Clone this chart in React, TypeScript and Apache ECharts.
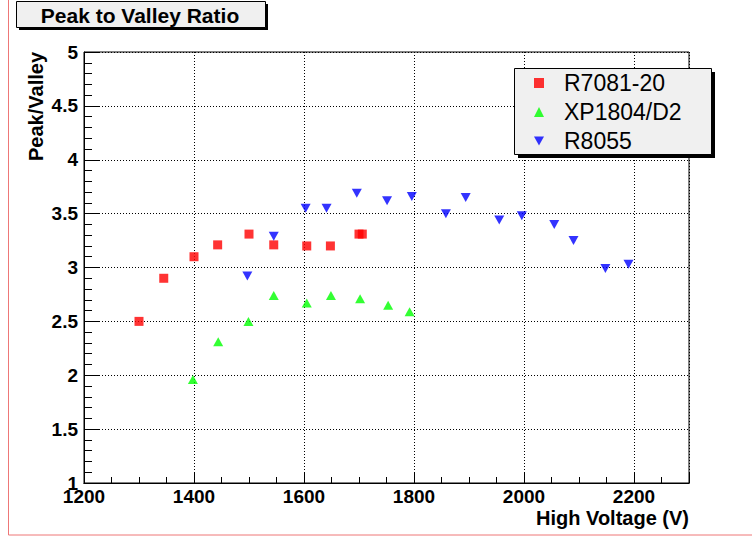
import React, { useEffect, useRef } from "react";
import * as echarts from "echarts";

// ---- data ----
const r7081X = [1300, 1345, 1400, 1443, 1500, 1545, 1605, 1648, 1700, 1706];
const r7081Y = [2.5, 2.9, 3.1, 3.21, 3.31, 3.21, 3.2, 3.2, 3.31, 3.31];

const xp1804X = [1398, 1444, 1499, 1545, 1605, 1649, 1702, 1753, 1792];
const xp1804Y = [1.96, 2.31, 2.5, 2.74, 2.67, 2.74, 2.71, 2.65, 2.59];

const r8055X = [1497, 1545, 1603, 1641, 1696, 1751, 1796, 1858, 1894, 1955, 1996, 2055, 2090, 2148, 2190];
const r8055Y = [2.92, 3.29, 3.55, 3.55, 3.69, 3.62, 3.66, 3.5, 3.65, 3.44, 3.48, 3.4, 3.25, 2.99, 3.03];

const seriesNames = ["R7081-20", "XP1804/D2", "R8055"];
const titleText = "Peak to Valley Ratio";
const xTitle = "High Voltage (V)";
const yTitle = "Peak/Valley";

const xMin = 1200;
const xMax = 2300;
const xMajor = 200;
const xMinor = 50;
const yMin = 1;
const yMax = 5;
const yMajor = 0.5;

const FONT = "'Liberation Sans', Arial, Helvetica, sans-serif";

function zip(xs: number[], ys: number[]) {
  return xs.map((x, i) => [x, ys[i]]);
}

export default function App() {
  const ref = useRef<HTMLDivElement>(null);

  useEffect(() => {
    if (!ref.current) return;
    const chart = echarts.init(ref.current, undefined, { renderer: "svg" });
    const dotted = { color: "#000", width: 1, type: [1, 2] as any };
    const option: any = {
      animation: false,
      backgroundColor: "#fff",
      grid: {
        left: 84,
        right: 63,
        top: 52,
        bottom: 56,
        show: true,
        borderColor: "#000",
        borderWidth: 1,
        backgroundColor: "#fff",
      },
      xAxis: [
        {
          type: "value",
          min: xMin,
          max: xMax,
          interval: xMinor,
          position: "bottom",
          axisLine: { show: true, lineStyle: { color: "#000", width: 1 } },
          axisTick: { show: true, inside: true, length: 6, lineStyle: { color: "#000" } },
          axisLabel: { show: false },
          splitLine: { show: false },
        },
        {
          type: "value",
          min: xMin,
          max: xMax,
          interval: xMajor,
          position: "bottom",
          axisLine: { show: true, lineStyle: { color: "#000", width: 1 } },
          axisTick: { show: true, inside: true, length: 11, lineStyle: { color: "#000" } },
          axisLabel: {
            show: true,
            color: "#000",
            fontFamily: FONT,
            fontWeight: "bold",
            fontSize: 19,
            margin: 4,
            formatter: (v: number) => (v === xMax ? "" : String(v)),
          },
          splitLine: { show: true, lineStyle: dotted },
        },
      ],
      yAxis: {
        type: "value",
        min: yMin,
        max: yMax,
        interval: yMajor,
        axisLine: { show: true, lineStyle: { color: "#000", width: 1 } },
        axisTick: { show: true, inside: true, length: 16, lineStyle: { color: "#000" } },
        minorTick: { show: true, splitNumber: 5, length: 8, lineStyle: { color: "#000" } },
        axisLabel: {
          color: "#000",
          fontFamily: FONT,
          fontWeight: "bold",
          fontSize: 19,
          margin: 6,
        },
        splitLine: { show: true, lineStyle: dotted },
      },
      legend: {
        orient: "vertical",
        left: 514,
        top: 68,
        padding: [3, 29, 5, 20],
        itemWidth: 10,
        itemHeight: 10,
        itemGap: 5,
        symbolKeepAspect: true,
        z: 10,
        backgroundColor: "transparent",
        textStyle: {
          color: "#000",
          fontFamily: FONT,
          fontSize: 23,
          lineHeight: 24,
          padding: [0, 0, 0, 15],
        },
        data: [
          { name: seriesNames[0], icon: "rect" },
          { name: seriesNames[1], icon: "triangle" },
          { name: seriesNames[2], icon: "path://M0,0L10,0L5,9Z" },
        ],
      },
      series: [
        {
          name: seriesNames[0],
          type: "scatter",
          xAxisIndex: 0,
          symbol: "rect",
          symbolSize: 9,
          itemStyle: { color: "#ff0000" },
          data: zip(r7081X, r7081Y),
        },
        {
          name: seriesNames[1],
          type: "scatter",
          xAxisIndex: 0,
          symbol: "triangle",
          symbolSize: [10, 9],
          itemStyle: { color: "#00ff00" },
          data: zip(xp1804X, xp1804Y),
        },
        {
          name: seriesNames[2],
          type: "scatter",
          xAxisIndex: 0,
          symbol: "triangle",
          symbolRotate: 180,
          symbolSize: [10, 9],
          itemStyle: { color: "#0000ff" },
          data: zip(r8055X, r8055Y),
        },
      ],
      graphic: [
        {
          type: "rect",
          z: 0,
          silent: true,
          shape: { x: 8.5, y: -10, width: 800, height: 545 },
          style: { fill: "none", stroke: "#ee7777", lineWidth: 1 },
        },
        {
          type: "rect",
          z: 8,
          shape: { x: 19, y: 4, width: 249, height: 26 },
          style: { fill: "#000" },
        },
        {
          type: "rect",
          z: 9,
          shape: { x: 16.5, y: 1.5, width: 249, height: 26 },
          style: { fill: "#f0f0f0", stroke: "#000", lineWidth: 1 },
        },
        {
          type: "text",
          z: 10,
          x: 140,
          y: 15,
          style: {
            text: titleText,
            fill: "#000",
            font: `bold 21px ${FONT}`,
            align: "center",
            verticalAlign: "middle",
          },
        },
        {
          type: "rect",
          z: 8,
          shape: { x: 518, y: 72, width: 197, height: 86 },
          style: { fill: "#000" },
        },
        {
          type: "rect",
          z: 9,
          shape: { x: 514.5, y: 68.5, width: 197, height: 86 },
          style: { fill: "#f0f0f0", stroke: "#000", lineWidth: 1 },
        },
        {
          type: "text",
          z: 10,
          x: 689,
          y: 518,
          style: {
            text: xTitle,
            fill: "#000",
            font: `bold 20px ${FONT}`,
            align: "right",
            verticalAlign: "middle",
          },
        },
        {
          type: "text",
          z: 10,
          x: 36,
          y: 52,
          rotation: Math.PI / 2,
          style: {
            text: yTitle,
            fill: "#000",
            font: `bold 20px ${FONT}`,
            align: "right",
            verticalAlign: "middle",
          },
        },
      ],
    };
    chart.setOption(option);
    return () => chart.dispose();
  }, []);

  return (
    <div
      ref={ref}
      style={{ position: "absolute", left: 0, top: 0, width: 752, height: 539 }}
    />
  );
}
